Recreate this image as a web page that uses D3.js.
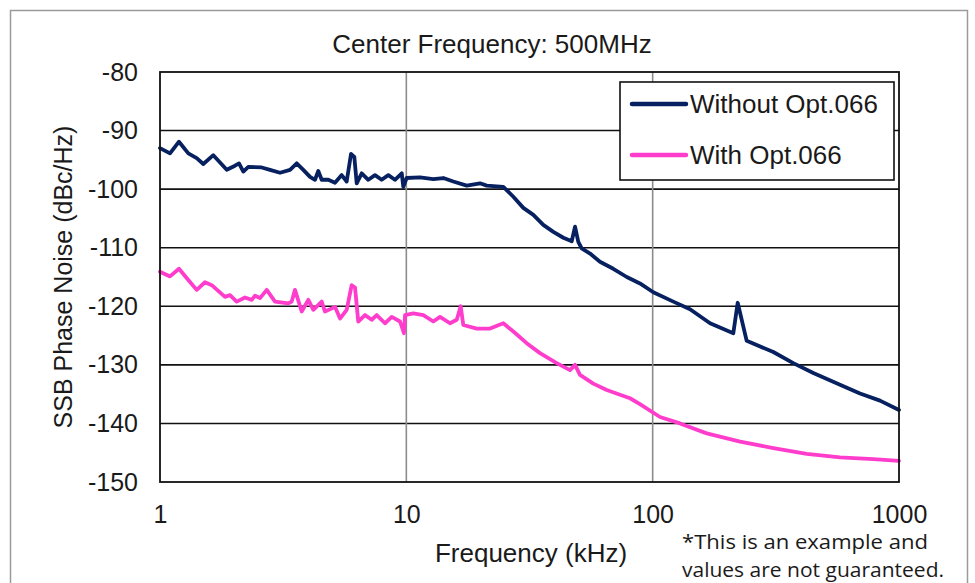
<!DOCTYPE html>
<html>
<head>
<meta charset="utf-8">
<script src="https://cdn.jsdelivr.net/npm/d3@7"></script>
<style>
  html, body { margin: 0; padding: 0; background: #fff; }
  svg { display: block; }
  text { font-family: "Liberation Sans", Arial, sans-serif; fill: #1a1a1a; }
</style>
</head>
<body>
<svg id="chart" width="975" height="583"></svg>
<script>
// ---- data ----
const title = "Center Frequency: 500MHz";
const xLabel = "Frequency (kHz)";
const yLabel = "SSB Phase Noise (dBc/Hz)";
const seriesNames = ["Without Opt.066", "With Opt.066"];
const xTicks = [1, 10, 100, 1000];
const yTicks = [-150, -140, -130, -120, -110, -100, -90, -80];
const noteLines = ["*This is an example and", "values are not guaranteed."];

// Without Opt.066 (kHz, dBc/Hz)
const withoutFreq = [1.0, 1.098, 1.194, 1.303, 1.409, 1.499, 1.646, 1.866, 2.016, 2.093, 2.179, 2.283, 2.588, 2.797, 3.071, 3.372, 3.589, 3.817, 4.064, 4.258, 4.391, 4.533, 4.823, 5.133, 5.465, 5.726, 5.962, 6.149, 6.288, 6.589, 7.008, 7.46, 7.94, 8.45, 8.99, 9.58, 9.72, 10.03, 11.36, 12.87, 14.13, 15.51, 17.59, 19.91, 21.2, 24.76, 27.19, 29.85, 32.78, 35.97, 39.52, 43.39, 46.93, 48.4, 49.9, 51.5, 55.7, 61.1, 69.2, 78.5, 88.8, 100.6, 121.3, 141.8, 171.0, 212.5, 221.4, 240.8, 308.9, 372.3, 448.9, 576.1, 694.6, 837.3, 1000];
const withoutDb = [-93.0, -93.9, -91.9, -93.9, -94.7, -95.7, -94.2, -96.7, -96.0, -95.6, -97.0, -96.2, -96.3, -96.7, -97.2, -96.7, -95.6, -96.7, -97.9, -98.4, -96.9, -98.4, -98.4, -98.9, -97.6, -98.7, -94.0, -94.5, -99.0, -97.3, -98.4, -97.6, -98.4, -97.6, -98.4, -97.3, -99.6, -98.1, -98.0, -98.3, -98.1, -98.7, -99.4, -99.0, -99.4, -99.6, -101.3, -103.2, -104.4, -106.1, -107.3, -108.3, -108.9, -106.4, -109.0, -110.1, -111.0, -112.4, -113.6, -115.0, -116.1, -117.6, -119.2, -120.5, -122.9, -124.6, -119.4, -125.9, -127.8, -129.7, -131.4, -133.4, -134.9, -136.1, -137.7];

// With Opt.066 (kHz, dBc/Hz)
const withFreq = [1.0, 1.098, 1.194, 1.303, 1.409, 1.523, 1.622, 1.836, 1.924, 2.048, 2.214, 2.357, 2.431, 2.547, 2.712, 2.93, 3.32, 3.425, 3.532, 3.76, 4.0, 4.193, 4.533, 4.676, 5.133, 5.38, 5.726, 6.0, 6.19, 6.38, 6.795, 7.235, 7.58, 8.19, 8.72, 9.43, 9.78, 9.88, 10.67, 11.72, 12.87, 13.7, 15.04, 16.02, 16.62, 17.03, 19.31, 21.87, 24.76, 27.19, 30.81, 34.88, 40.78, 46.18, 48.4, 50.7, 57.4, 65.1, 73.7, 80.9, 88.8, 107.1, 129.1, 165.8, 226.4, 308.9, 422.0, 576.1, 786.6, 1000];
const withDb = [-114.1, -114.9, -113.6, -115.5, -117.2, -115.9, -116.4, -118.4, -118.1, -119.2, -118.5, -118.9, -118.2, -118.6, -117.2, -119.2, -119.5, -119.2, -117.2, -120.9, -118.9, -120.6, -119.2, -120.9, -120.1, -122.1, -120.6, -116.4, -116.8, -122.6, -121.5, -122.3, -121.5, -122.9, -121.8, -122.6, -124.6, -121.5, -121.2, -121.5, -122.6, -121.8, -122.9, -122.3, -120.0, -123.2, -123.8, -123.8, -122.9, -124.3, -126.3, -128.0, -129.7, -130.9, -130.0, -131.7, -133.2, -134.3, -135.1, -135.7, -136.7, -138.9, -140.0, -141.7, -143.1, -144.2, -145.2, -145.8, -146.1, -146.4];

const colors = ["#062060", "#ff3dcc"];

// ---- drawing ----
const svg = d3.select("#chart");
const W = 975, H = 583;
const plot = { left: 160, right: 899, top: 72, bottom: 482 };

svg.append("rect").attr("x", 0).attr("y", 0).attr("width", W).attr("height", H).attr("fill", "#fff");
// outer chart frame
svg.append("rect").attr("x", 10.5).attr("y", 10.5).attr("width", 957).attr("height", 590)
  .attr("fill", "none").attr("stroke", "#9a9a9a").attr("stroke-width", 1.5);

const x = d3.scaleLog().domain([1, 1000]).range([plot.left, plot.right]);
const y = d3.scaleLinear().domain([-150, -80]).range([plot.bottom, plot.top]);

// horizontal gridlines
svg.append("g").selectAll("line").data(yTicks.slice(1, -1)).join("line")
  .attr("x1", plot.left).attr("x2", plot.right)
  .attr("y1", d => y(d)).attr("y2", d => y(d))
  .attr("stroke", "#111").attr("stroke-width", 1.6);
// vertical gridlines
svg.append("g").selectAll("line").data(xTicks.slice(1, -1)).join("line")
  .attr("x1", d => x(d)).attr("x2", d => x(d))
  .attr("y1", plot.top).attr("y2", plot.bottom)
  .attr("stroke", "#8c8c8c").attr("stroke-width", 1.6);

// axes (labels only; lines drawn by frame)
const yAxis = svg.append("g").attr("transform", `translate(${plot.left},0)`)
  .call(d3.axisLeft(y).tickValues(yTicks).tickSize(0).tickPadding(22).tickFormat(d => String(d)));
yAxis.select(".domain").remove();
yAxis.selectAll("text").style("font-size", "25px").attr("fill", "#1a1a1a")
  .style("font-family", "'Liberation Sans', Arial, sans-serif");

const xAxis = svg.append("g").attr("transform", `translate(0,${plot.bottom})`)
  .call(d3.axisBottom(x).tickValues(xTicks).tickSize(0).tickPadding(23).tickFormat(d => String(d)));
xAxis.select(".domain").remove();
xAxis.selectAll("text").style("font-size", "25px").attr("fill", "#1a1a1a")
  .style("font-family", "'Liberation Sans', Arial, sans-serif");

// data lines
const series = [
  { name: seriesNames[0], f: withoutFreq, v: withoutDb, color: colors[0] },
  { name: seriesNames[1], f: withFreq, v: withDb, color: colors[1] }
];
const line = d3.line().x(d => x(d[0])).y(d => y(d[1]));
series.forEach(s => {
  svg.append("path").datum(d3.zip(s.f, s.v))
    .attr("d", line).attr("fill", "none")
    .attr("stroke", s.color).attr("stroke-width", 3.8)
    .attr("stroke-linejoin", "round").attr("stroke-linecap", "round");
});

// plot border
svg.append("rect").attr("x", plot.left).attr("y", plot.top)
  .attr("width", plot.right - plot.left).attr("height", plot.bottom - plot.top)
  .attr("fill", "none").attr("stroke", "#111").attr("stroke-width", 1.8);

// title
svg.append("text").attr("x", 492).attr("y", 53).attr("text-anchor", "middle")
  .style("font-size", "26px").text(title);

// axis titles
svg.append("text").attr("x", 531).attr("y", 562).attr("text-anchor", "middle")
  .style("font-size", "26px").text(xLabel);
svg.append("text").attr("transform", `translate(72,277) rotate(-90)`).attr("text-anchor", "middle")
  .style("font-size", "25px").text(yLabel);

// legend
const lg = svg.append("g");
lg.append("rect").attr("x", 620).attr("y", 82).attr("width", 274).attr("height", 98)
  .attr("fill", "#fff").attr("stroke", "#111").attr("stroke-width", 1.6);
series.forEach((s, i) => {
  const ly = 104 + i * 51;
  lg.append("line").attr("x1", 632).attr("x2", 686).attr("y1", ly).attr("y2", ly)
    .attr("stroke", s.color).attr("stroke-width", 4.5).attr("stroke-linecap", "round");
  lg.append("text").attr("x", 690).attr("y", ly + 9).style("font-size", "26px").text(s.name);
});

// note
const noteWidths = [246, 262];
svg.append("g").selectAll("text").data(noteLines).join("text")
  .attr("x", 682).attr("y", (d, i) => 549 + i * 27.5)
  .attr("textLength", (d, i) => noteWidths[i]).attr("lengthAdjust", "spacingAndGlyphs")
  .style("font-family", "'Open Sans', 'Noto Sans', sans-serif").style("font-size", "20px")
  .attr("fill", "#111").text(d => d);
</script>
</body>
</html>
